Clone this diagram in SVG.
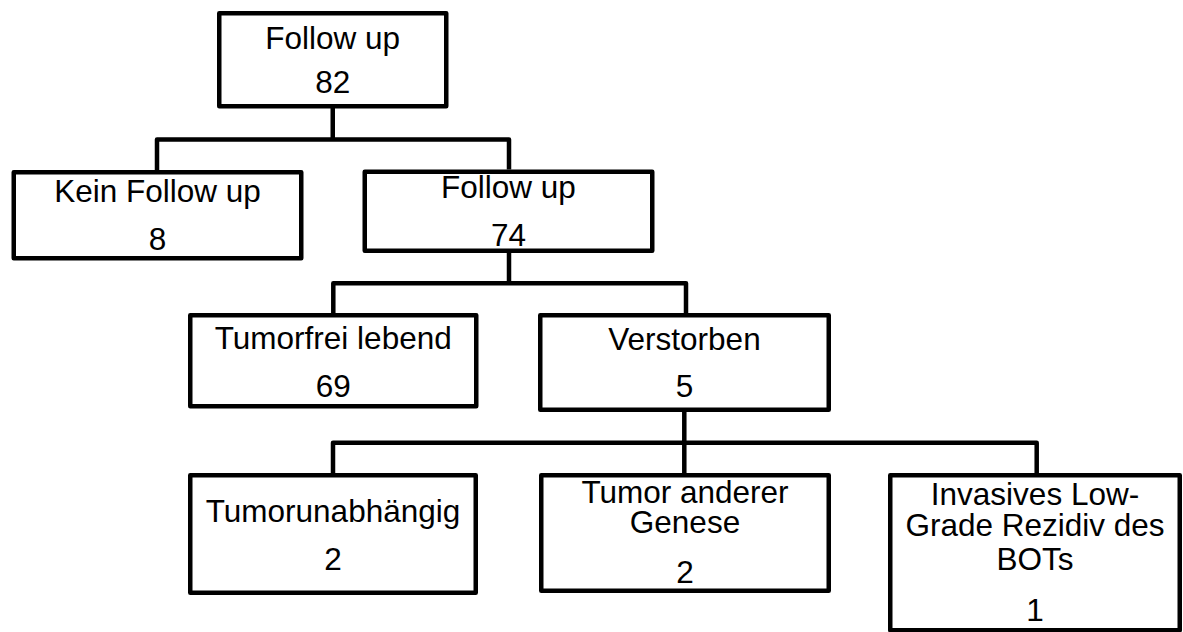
<svg xmlns="http://www.w3.org/2000/svg" width="1183" height="632" viewBox="0 0 1183 632">
<style>
.box{fill:#fff;stroke:#000;stroke-width:4.5;stroke-linejoin:round}
.conn{fill:none;stroke:#000;stroke-width:4.5;stroke-linejoin:round;stroke-linecap:butt}
text{font-family:"Liberation Sans",Arial,sans-serif;font-size:31.5px;fill:#000;text-anchor:middle}
</style>
<rect width="1183" height="632" fill="#fff"/>
<g id="connectors">
<path class="conn" d="M332.75,108 V139.5 M157,170 V139.5 H509 V169.5"/>
<path class="conn" d="M509,253 V283.3 M333.3,313 V283.3 H686 V313"/>
<path class="conn" d="M684.3,412 V442.7 M333,473 V442.7 H1036.7 V473 M684.3,442.7 V473"/>
</g>
<g id="root">
<rect class="box" x="219.25" y="13.25" width="227" height="93"/>
<text x="332.75" y="49">Follow up</text>
<text x="332.75" y="93">82</text>
</g>
<g id="kein-follow-up">
<rect class="box" x="13.75" y="172.25" width="287.5" height="86"/>
<text x="157.5" y="201.5">Kein Follow up</text>
<text x="157.5" y="250">8</text>
</g>
<g id="follow-up-74">
<rect class="box" x="364.75" y="171.75" width="287.5" height="79"/>
<text x="508.5" y="198">Follow up</text>
<text x="508.5" y="246">74</text>
</g>
<g id="tumorfrei">
<rect class="box" x="190.25" y="315.25" width="286" height="91"/>
<text x="333.25" y="348.5">Tumorfrei lebend</text>
<text x="333.25" y="396.5">69</text>
</g>
<g id="verstorben">
<rect class="box" x="540.25" y="315.25" width="288.5" height="94.5"/>
<text x="684.5" y="350">Verstorben</text>
<text x="684.5" y="396.5">5</text>
</g>
<g id="tumorunabhaengig">
<rect class="box" x="190.25" y="475.25" width="285.5" height="117.5"/>
<text x="333" y="521.5">Tumorunabhängig</text>
<text x="333" y="570">2</text>
</g>
<g id="tumor-anderer-genese">
<rect class="box" x="541.25" y="475.25" width="287.5" height="115.5"/>
<text x="685" y="502.5">Tumor anderer</text>
<text x="685" y="533">Genese</text>
<text x="685" y="582.5">2</text>
</g>
<g id="invasives">
<rect class="box" x="890.25" y="475.25" width="289.5" height="155"/>
<text x="1035" y="505">Invasives Low-</text>
<text x="1035" y="536">Grade Rezidiv des</text>
<text x="1035" y="570">BOTs</text>
<text x="1035" y="620.5">1</text>
</g>
</svg>
